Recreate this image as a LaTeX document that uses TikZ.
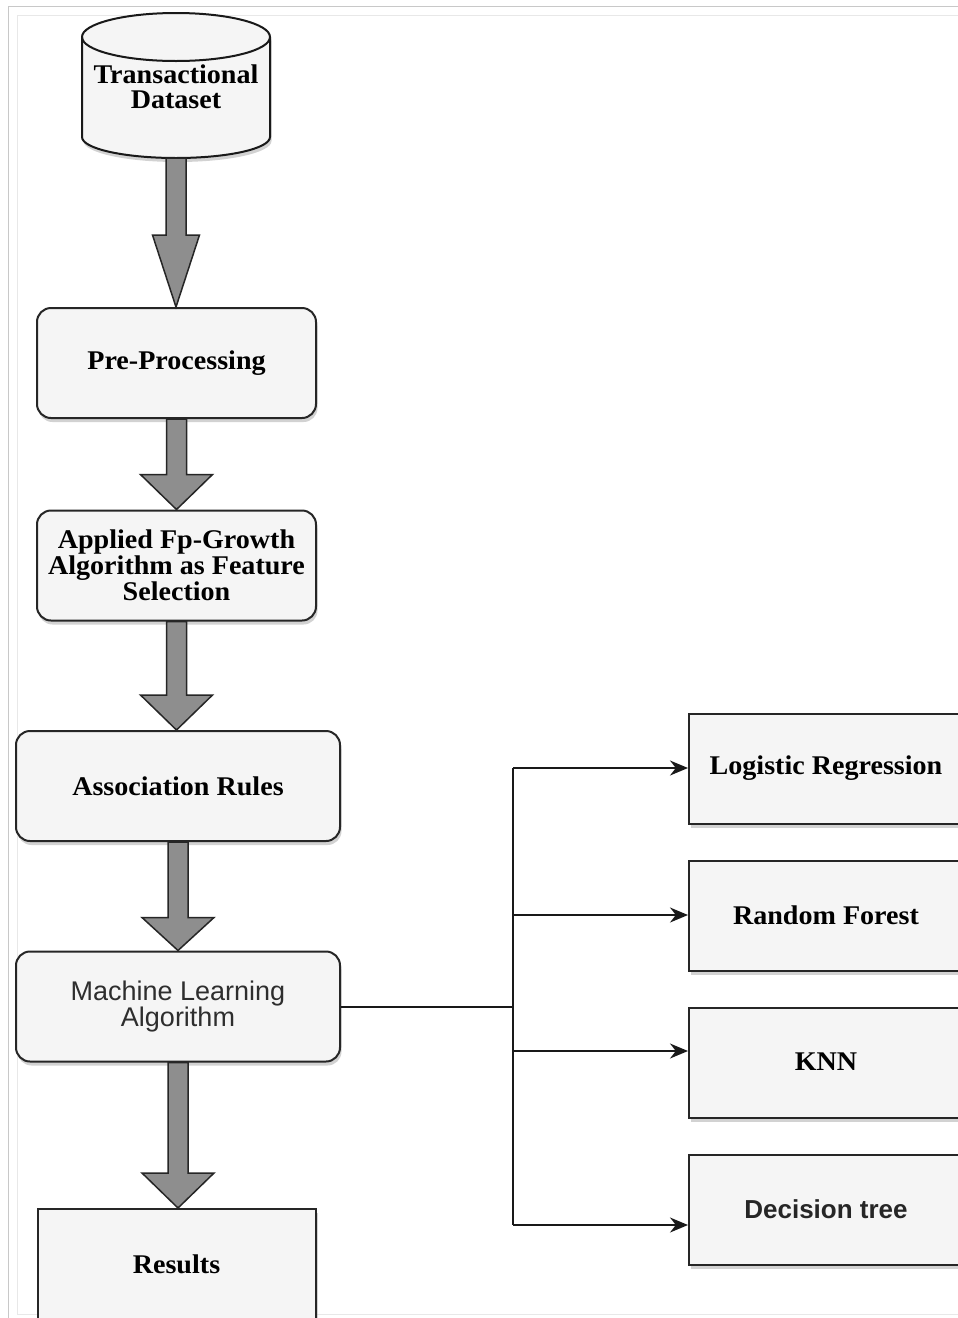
\documentclass[tikz,border=0pt]{standalone}
\usepackage{fontspec}
\setmainfont{Liberation Serif}[FakeStretch=1.04]
\setsansfont{Liberation Sans}
\usetikzlibrary{calc,shadows,arrows.meta}
\definecolor{boxfill}{HTML}{F5F5F5}
\definecolor{arrfill}{HTML}{8E8E8E}
\definecolor{framegray}{HTML}{C8C8C8}
\definecolor{framelight}{HTML}{E8E8E8}
\definecolor{mltext}{HTML}{2E2E2E}
\tikzset{
  shad/.style={drop shadow={opacity=0.35,shadow xshift=1.5pt,shadow yshift=-4pt}},
  rbox/.style={draw=black!85,line width=2pt,fill=boxfill,rounded corners=14pt,shad,
    minimum width=279pt,minimum height=110pt,inner sep=0pt,align=center,
    font=\fontsize{27}{26}\selectfont\bfseries},
  wbox/.style={rbox,minimum width=324pt},
  cbox/.style={draw=black!85,line width=2pt,fill=boxfill,shad,
    minimum width=278pt,minimum height=110pt,inner sep=0pt,anchor=north west},
  lbl/.style={font=\fontsize{27}{26}\selectfont\bfseries,align=center},
  barrow/.style={draw=black!85,line width=1.5pt,fill=arrfill,line join=miter},
  conn/.style={draw=black!90,line width=1.6pt,-{Stealth[length=18pt,width=15pt]}},
  seg/.style={draw=black!90,line width=1.6pt},
}
\newcommand\blockarr[4]{%
  \coordinate (ba-s) at (#1);
  \coordinate (ba-t) at (#1 |- #2);
  \path[barrow] ($(ba-s)+(-10,0)$) -- ($(ba-t)+(-10,-#3)$) -- ($(ba-t)+(-#4,-#3)$)
    -- (ba-t) -- ($(ba-t)+(#4,-#3)$) -- ($(ba-t)+(10,-#3)$) -- ($(ba-s)+(10,0)$) -- cycle;}
\begin{document}
\begin{tikzpicture}[x=1pt,y=-1pt]
\useasboundingbox (0,0) rectangle (958,1318);
\fill[white] (0,0) rectangle (958,1318);
\clip (0,0) rectangle (958,1318);
% screenshot frame
\draw[framegray,line width=1pt] (8,6) -- (958,6);
\draw[framegray,line width=1pt] (8,6) -- (8,1318);
\draw[framelight,line width=1pt] (17,15) -- (958,15);
\draw[framelight,line width=1pt] (17,15) -- (17,1314) -- (958,1314);

% cylinder
\path[draw=black!90,line width=2pt,fill=boxfill,shad]
  (82,37) -- (82,137) arc[start angle=180,end angle=0,x radius=94,y radius=21]
  -- (270,37) arc[start angle=360,end angle=180,x radius=94,y radius=24] -- cycle;
\draw[black!90,line width=2pt] (82,37) arc[start angle=180,end angle=0,x radius=94,y radius=24];
\node[lbl] (data) at (176,87) {Transactional\\[-1pt]Dataset};
\coordinate (databot) at (176,158);

% main column
\node[rbox] (pre) at (176.5,363) {Pre-Processing};
\node[rbox] (fp) at (176.5,565.5) {Applied Fp-Growth\\Algorithm as Feature\\Selection};
\node[wbox] (ar) at (178,786) {Association Rules};
\node[wbox,font=\fontsize{27}{26}\selectfont\sffamily,text=mltext] (ml) at (178,1006.5) {Machine Learning\\Algorithm};
\node[cbox,minimum height=118pt] (res) at (37,1208) {};
\node[lbl] at (176.5,1264) {Results};

% block arrows
\blockarr{databot}{pre.north}{72}{23.5}
\blockarr{pre.south}{fp.north}{35}{36}
\blockarr{fp.south}{ar.north}{35}{36}
\blockarr{ar.south}{ml.north}{33}{36}
\blockarr{ml.south}{res.north}{35}{36}

% classifier boxes
\node[cbox,minimum width=280pt] (lr) at (688,713) {};
\node[lbl] at (826,768) {Logistic Regression};
\node[cbox,minimum width=280pt] (rf) at (688,860) {};
\node[lbl] at (826,915) {Random Forest};
\node[cbox,minimum width=280pt] (knn) at (688,1007) {};
\node[lbl] at (826,1062) {KNN};
\node[cbox,minimum width=280pt] (dt) at (688,1154) {};
\node[lbl,font=\fontsize{26}{26}\selectfont\sffamily\bfseries,text=black!85] at (826,1209) {Decision tree};

% branch connectors
\coordinate (br) at (513,1007);
\coordinate (brtop) at (513,768);
\coordinate (brbot) at (513,1225);
\draw[seg] (ml.east |- br) -- (br);
\draw[seg] (brtop) -- (brbot);
\draw[conn] (brtop) -- (lr.west |- brtop);
\draw[conn] (513,915) -- (rf.west |- 513,915);
\draw[conn] (513,1051) -- (knn.west |- 513,1051);
\draw[conn] (brbot) -- (dt.west |- brbot);
\end{tikzpicture}
\end{document}
